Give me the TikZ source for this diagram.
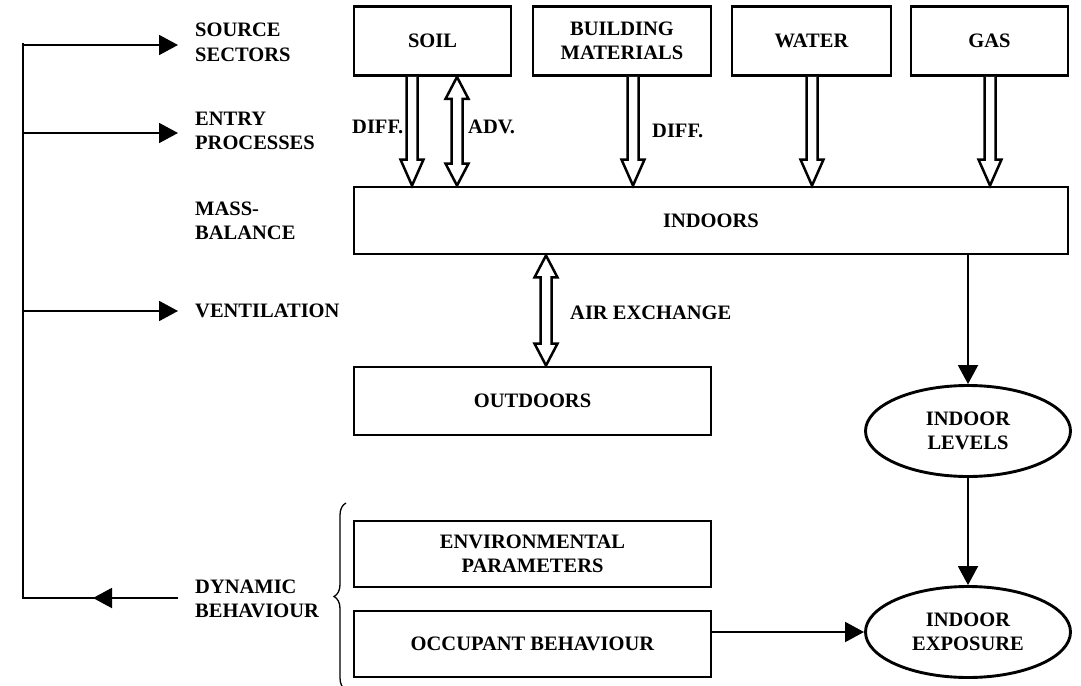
\documentclass[tikz,border=0pt]{standalone}
\usepackage{fontspec}
\setmainfont{Liberation Serif}
\usetikzlibrary{arrows.meta,calc,decorations.pathreplacing,shapes.geometric}
\tikzset{
  lbl/.style={font=\fontsize{20.5}{24.5}\selectfont\bfseries, align=center, inner sep=0pt},
  sidelbl/.style={lbl, align=left, anchor=west},
  box/.style={lbl, draw, line width=2.9pt},
  oval/.style={lbl, draw, ellipse, line width=2.9pt, minimum width=205pt, minimum height=91pt},
  arr/.style={line width=1.9pt, -{Triangle[length=19pt,width=20pt]}},
  plainline/.style={line width=1.9pt},
  hollowline/.style={line width=2.5pt, fill=white, line join=miter},
}
\newcommand{\hollowdown}[2]{\draw[hollowline] let \p1=(#1), \p2=(#2) in
  (\x1-5.5pt,\y1) -- (\x1-5.5pt,\y2+26pt) -- (\x1-11.5pt,\y2+26pt) -- (\x2,\y2)
  -- (\x1+11.5pt,\y2+26pt) -- (\x1+5.5pt,\y2+26pt) -- (\x1+5.5pt,\y1);}
\newcommand{\hollowboth}[2]{\draw[hollowline] let \p1=(#1), \p2=(#2) in
  (\x1,\y1) -- (\x1+11.5pt,\y1-22pt) -- (\x1+5.5pt,\y1-22pt) -- (\x1+5.5pt,\y2+22pt)
  -- (\x1+11.5pt,\y2+22pt) -- (\x2,\y2) -- (\x1-11.5pt,\y2+22pt) -- (\x1-5.5pt,\y2+22pt)
  -- (\x1-5.5pt,\y1-22pt) -- (\x1-11.5pt,\y1-22pt) -- cycle;}
\begin{document}
\begin{tikzpicture}[x=1pt,y=-1pt]
\useasboundingbox (0,0) rectangle (1081,685);
\fill[white] (0,0) rectangle (1081,685);

% boxes
\node[box, minimum width=157pt, minimum height=69pt] (soil) at (432.5,41) {SOIL};
\node[box, minimum width=178pt, minimum height=69pt] (build) at (622,41) {BUILDING\\MATERIALS};
\node[box, minimum width=159pt, minimum height=69pt] (water) at (811.5,41) {WATER};
\node[box, minimum width=157pt, minimum height=69pt] (gas) at (989.5,41) {GAS};
\node[box, minimum width=714pt, minimum height=67pt] (indoors) at (711,220.5) {INDOORS};
\node[box, minimum width=357pt, minimum height=68pt] (outdoors) at (532.5,401) {OUTDOORS};
\node[box, minimum width=357pt, minimum height=66pt] (env) at (532.5,554) {ENVIRONMENTAL\\PARAMETERS};
\node[box, minimum width=357pt, minimum height=66pt] (occ) at (532.5,644) {OCCUPANT BEHAVIOUR};
\node[oval] (levels) at (968,431) {INDOOR\\LEVELS};
\node[oval] (exposure) at (968,632) {INDOOR\\EXPOSURE};

% side labels
\node[sidelbl] (src) at (195,42.5) {SOURCE\\SECTORS};
\node[sidelbl] (entry) at (195,131) {ENTRY\\PROCESSES};
\node[sidelbl] (mass) at (195,221) {MASS-\\BALANCE};
\node[sidelbl] (vent) at (195,311) {VENTILATION};
\node[sidelbl] (dyn) at (195,599) {DYNAMIC\\BEHAVIOUR};

% arrow labels
\node[sidelbl] (ldiff1) at (352,127) {DIFF.};
\node[sidelbl] (ladv) at (468,127) {ADV.};
\node[sidelbl] (ldiff2) at (652,131) {DIFF.};
\node[sidelbl] (lair) at (570,313) {AIR EXCHANGE};

% hollow arrows
\coordinate (a1) at ([xshift=-20.5pt]soil.south);
\coordinate (a2) at ([xshift=24.5pt]soil.south);
\coordinate (a3) at ([xshift=11pt]build.south);
\coordinate (a4) at ([xshift=0.5pt]water.south);
\coordinate (a5) at ([xshift=0.5pt]gas.south);
\coordinate (a6) at ([xshift=13.5pt]outdoors.north);
\hollowdown{a1}{a1 |- indoors.north}
\hollowboth{a2}{a2 |- indoors.north}
\hollowdown{a3}{a3 |- indoors.north}
\hollowdown{a4}{a4 |- indoors.north}
\hollowdown{a5}{a5 |- indoors.north}
\hollowboth{a6 |- indoors.south}{a6}

% right side flow
\draw[arr] (indoors.south -| levels.north) -- (levels.north);
\draw[arr] (levels.south) -- (exposure.north);
\draw[arr] (occ.east |- exposure.west) -- (exposure.west);

% left spine
\coordinate (spinetop) at (23,43);
\coordinate (spinebot) at (23,598);
\coordinate (dynstart) at (178,598);
\coordinate (dynmid) at (93,598);
\draw[plainline] (dynstart) -- (spinebot) -- (spinetop);
\draw[arr] (dynstart) -- (dynmid);
\draw[arr] (23,45) -- (178,45);
\draw[arr] (spinetop |- 0,133) -- (178,133);
\draw[arr] (spinetop |- 0,311) -- (178,311);

% brace
\draw[line width=1.3pt, decorate, decoration={brace, amplitude=12pt}] (346,690) -- (346,503);
\end{tikzpicture}
\end{document}
